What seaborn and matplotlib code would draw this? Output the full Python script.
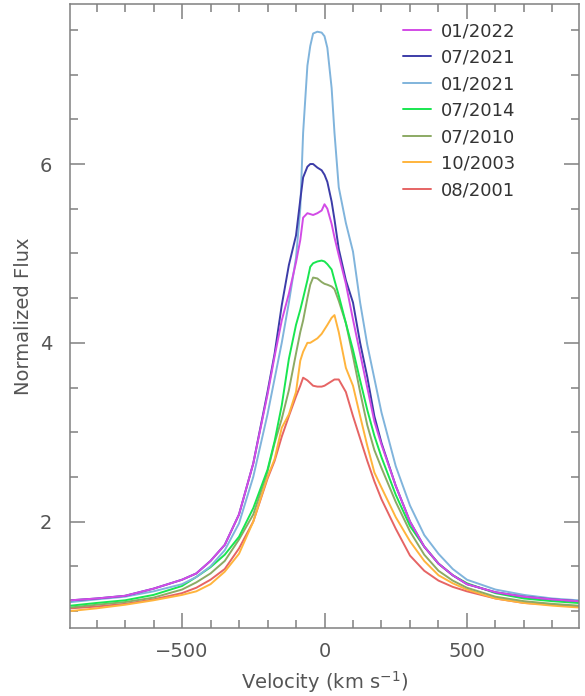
import numpy as np
import pandas as pd
import seaborn as sns
import matplotlib.pyplot as plt
from matplotlib.ticker import MultipleLocator

# velocity grid (km/s) shared by all epochs
velocity = [-890, -800, -700, -600, -500, -450, -400, -350, -300, -250, -200, -175, -150, -125,
            -100, -85, -75, -60, -50, -40, -25, -10, 0, 10, 25, 35, 50, 75, 100, 125, 150, 175,
            200, 250, 300, 350, 400, 450, 500, 600, 700, 800, 890]

# normalized flux, one list per epoch
flux_2022_01 = [1.12, 1.14, 1.17, 1.25, 1.35, 1.42, 1.56, 1.74, 2.08, 2.65, 3.42, 3.85, 4.25, 4.55,
                4.90, 5.15, 5.40, 5.45, 5.44, 5.43, 5.45, 5.48, 5.55, 5.50, 5.33, 5.18, 4.98, 4.66,
                4.26, 3.88, 3.50, 3.12, 2.86, 2.40, 2.00, 1.72, 1.53, 1.40, 1.30, 1.21, 1.16, 1.13, 1.11]
flux_2021_07 = [1.12, 1.14, 1.17, 1.25, 1.35, 1.42, 1.56, 1.74, 2.08, 2.65, 3.45, 3.88, 4.42, 4.87,
                5.20, 5.60, 5.85, 5.97, 6.00, 6.00, 5.96, 5.93, 5.88, 5.80, 5.58, 5.38, 5.05, 4.70,
                4.45, 4.00, 3.62, 3.18, 2.88, 2.40, 2.00, 1.72, 1.53, 1.40, 1.30, 1.21, 1.16, 1.13, 1.11]
flux_2021_01 = [1.10, 1.13, 1.16, 1.22, 1.30, 1.38, 1.50, 1.68, 1.98, 2.50, 3.20, 3.60, 4.00, 4.45,
                4.95, 5.50, 6.35, 7.10, 7.32, 7.46, 7.48, 7.47, 7.43, 7.30, 6.85, 6.35, 5.74, 5.34,
                5.02, 4.45, 3.98, 3.60, 3.22, 2.62, 2.18, 1.85, 1.64, 1.47, 1.35, 1.24, 1.18, 1.14, 1.12]
flux_2014_07 = [1.06, 1.09, 1.12, 1.18, 1.28, 1.38, 1.49, 1.63, 1.83, 2.15, 2.58, 2.90, 3.30, 3.82,
                4.20, 4.37, 4.50, 4.70, 4.85, 4.89, 4.91, 4.92, 4.91, 4.88, 4.82, 4.70, 4.53, 4.22,
                3.92, 3.58, 3.25, 2.96, 2.72, 2.30, 1.95, 1.72, 1.53, 1.40, 1.31, 1.20, 1.14, 1.11, 1.09]
flux_2010_07 = [1.04, 1.07, 1.10, 1.15, 1.24, 1.32, 1.42, 1.56, 1.80, 2.08, 2.56, 2.88, 3.15, 3.47,
                3.88, 4.12, 4.25, 4.50, 4.65, 4.73, 4.72, 4.68, 4.66, 4.65, 4.63, 4.60, 4.47, 4.22,
                3.85, 3.45, 3.08, 2.80, 2.60, 2.22, 1.89, 1.63, 1.45, 1.34, 1.26, 1.16, 1.11, 1.08, 1.06]
flux_2003_10 = [1.00, 1.03, 1.07, 1.12, 1.18, 1.22, 1.30, 1.44, 1.64, 2.00, 2.50, 2.70, 3.05, 3.20,
                3.45, 3.80, 3.90, 4.00, 4.00, 4.02, 4.05, 4.10, 4.15, 4.20, 4.28, 4.31, 4.12, 3.72,
                3.52, 3.18, 2.85, 2.55, 2.38, 2.05, 1.78, 1.56, 1.40, 1.31, 1.24, 1.14, 1.09, 1.06, 1.04]
flux_2001_08 = [1.03, 1.05, 1.08, 1.13, 1.20, 1.26, 1.35, 1.47, 1.70, 2.00, 2.48, 2.68, 2.95, 3.18,
                3.40, 3.52, 3.61, 3.58, 3.55, 3.52, 3.51, 3.51, 3.52, 3.54, 3.57, 3.59, 3.59, 3.45,
                3.18, 2.93, 2.68, 2.45, 2.25, 1.92, 1.62, 1.45, 1.34, 1.27, 1.22, 1.14, 1.09, 1.07, 1.05]

epochs = ['01/2022', '07/2021', '01/2021', '07/2014', '07/2010', '10/2003', '08/2001']
fluxes = [flux_2022_01, flux_2021_07, flux_2021_01, flux_2014_07, flux_2010_07, flux_2003_10, flux_2001_08]
colors = ['#d24be6', '#3c3ca8', '#80b4dc', '#19e650', '#8caa64', '#ffb43c', '#e66464']

df = pd.concat([pd.DataFrame({'velocity': velocity, 'flux': f, 'epoch': e})
                for e, f in zip(epochs, fluxes)], ignore_index=True)

sns.set_style("ticks")
plt.rcParams['font.family'] = ['DejaVu Sans']

fig = plt.figure(figsize=(5.85, 6.96), dpi=100)
ax = fig.add_axes([70/585, 1-628/696, 509/585, 624/696])

# oldest first so the newest epochs sit on top
draw_order = epochs[::-1]
sns.lineplot(data=df, x='velocity', y='flux', hue='epoch', hue_order=draw_order,
             palette=dict(zip(epochs, colors)), estimator=None, sort=False,
             linewidth=1.4, legend=False, ax=ax)

ax.set_xlim(-893, 893)
ax.set_ylim(0.81, 7.79)
ax.xaxis.set_major_locator(MultipleLocator(500))
ax.xaxis.set_minor_locator(MultipleLocator(100))
ax.yaxis.set_major_locator(MultipleLocator(2))
ax.yaxis.set_minor_locator(MultipleLocator(0.5))
ax.tick_params(which='both', direction='in', top=True, right=True, color='#808080',
               width=1.1, labelsize=14, labelcolor='#555555')
ax.tick_params(axis='x', pad=10)
ax.tick_params(axis='y', pad=13)
ax.tick_params(which='major', length=11)
ax.tick_params(which='minor', length=5.5)
for s in ax.spines.values():
    s.set_color('#808080')
    s.set_linewidth(1.1)

ax.set_xlabel('Velocity (km s$^{-1}$)', fontsize=14, color='#555555', labelpad=6)
ax.set_ylabel('Normalized Flux', fontsize=14, color='#555555', labelpad=5)

lines = ax.get_lines()[::-1]
leg = ax.legend(lines, epochs, loc='upper left', bbox_to_anchor=(0.654, 0.971), frameon=False,
                fontsize=13, handlelength=1.55, handletextpad=0.55, labelspacing=0.47,
                borderpad=0, borderaxespad=0)
for t in leg.get_texts():
    t.set_color('#333333')

fig.savefig('out.png', dpi=100)
